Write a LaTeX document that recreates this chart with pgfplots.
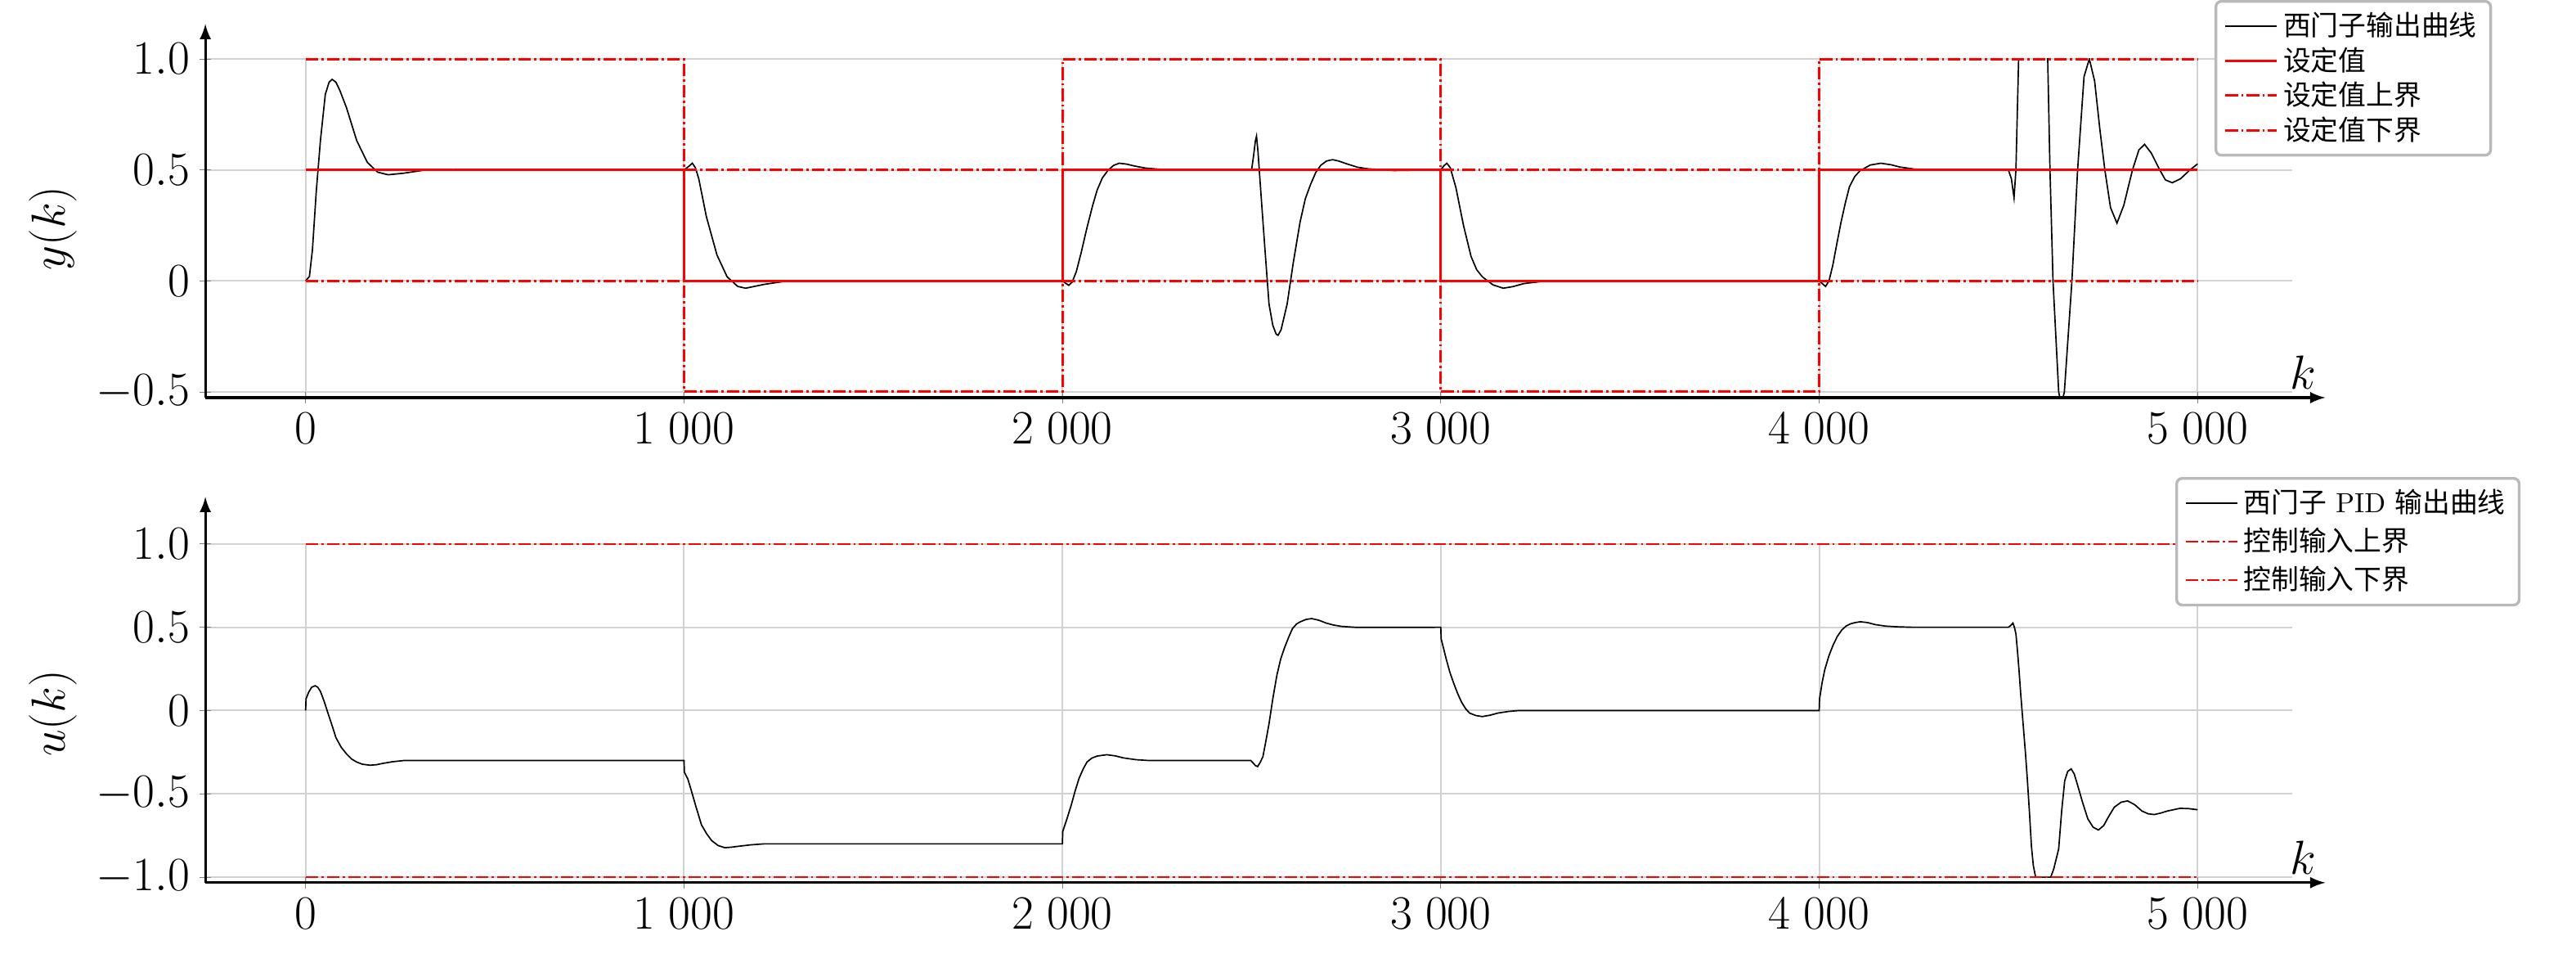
\documentclass[border=0pt]{standalone}
\usepackage{fontspec}
\usepackage{pgfplots}
\pgfplotsset{compat=1.18}
\newfontfamily\cjk{Noto Sans CJK SC}

\pgfplotsset{
  kplot/.style={
    scale only axis, width=755pt, height=122.5pt,
    axis lines=left,
    xmin=-265, xmax=5250,
    xtick={0,1000,2000,3000,4000,5000},
    xticklabels={$0$,$1\ 000$,$2\ 000$,$3\ 000$,$4\ 000$,$5\ 000$},
    grid=major,
    grid style={gray!35, line width=0.6pt},
    tick label style={font=\fontsize{16}{19}\selectfont},
    label style={font=\fontsize{16}{19}\selectfont},
    xlabel={$k$},
    xlabel style={at={(axis description cs:1,0)}, anchor=south east,
      xshift=9pt, yshift=3pt, inner sep=0pt},
    axis line style={line width=0.9pt},
    x axis line style={-latex, shorten >=-12pt},
    legend style={font=\fontsize{10}{12}\selectfont, draw=gray!55,
      line width=1pt, rounded corners=2pt, inner xsep=3pt, inner ysep=2pt,
      cells={anchor=west}, anchor=north west},
    legend image code/.code={\draw[#1] (0pt,0pt) -- (18.5pt,0pt);},
  },
  dd/.style={red, line width=0.9pt, dash pattern=on 4.5pt off 1.2pt on 0.8pt off 1.2pt},
}

\begin{document}
\begin{tikzpicture}

% output y(k)
\begin{axis}[kplot,
  at={(0pt,0pt)}, anchor=south west,
  ymin=-0.526, ymax=1.0,
  ytick={-0.5,0,0.5,1},
  yticklabels={$-0.5$,$0$,$0.5$,$1.0$},
  ylabel={$y(k)$},
  y axis line style={-latex, shorten >=-12.6pt},
  legend style={at={(0.9628,1.174)}, row sep=-1.4pt},
]
\addplot[black, line width=0.5pt] coordinates {
  (0,0) (10,0.02) (18,0.14) (28,0.40) (39,0.63) (52,0.84) (62,0.895) (70,0.908)
  (80,0.895) (90,0.86) (108,0.78) (135,0.632) (163,0.534) (190,0.49) (218,0.478)
  (259,0.485) (314,0.499) (397,0.503) (500,0.5) (1000,0.5)
  (1012,0.515) (1022,0.53) (1030,0.51) (1039,0.46) (1059,0.29) (1087,0.117)
  (1114,0.018) (1142,-0.025) (1163,-0.033) (1211,-0.016) (1266,-0.002) (1400,0) (2000,0)
  (2008,-0.01) (2017,-0.02) (2026,-0.005) (2037,0.043) (2050,0.13) (2065,0.24)
  (2080,0.34) (2092,0.41) (2106,0.465) (2120,0.497) (2135,0.52) (2150,0.53)
  (2170,0.526) (2189,0.518) (2220,0.508) (2257,0.503) (2326,0.5) (2500,0.5)
  (2505,0.56) (2510,0.63) (2513,0.652) (2517,0.58) (2525,0.386) (2535,0.15)
  (2546,-0.104) (2556,-0.2) (2565,-0.24) (2570,-0.245) (2578,-0.22) (2594,-0.104)
  (2610,0.08) (2628,0.264) (2642,0.37) (2656,0.435) (2670,0.49) (2683,0.521)
  (2698,0.54) (2714,0.546) (2730,0.54) (2752,0.527) (2780,0.512) (2807,0.505)
  (2876,0.497) (2950,0.499) (3000,0.5)
  (3008,0.518) (3016,0.53) (3025,0.51) (3040,0.42) (3060,0.25) (3080,0.11)
  (3095,0.05) (3110,0.018) (3138,-0.018) (3165,-0.033) (3190,-0.026) (3220,-0.012)
  (3275,-0.001) (3400,0) (4000,0)
  (4008,-0.012) (4017,-0.025) (4026,0.0) (4036,0.07) (4047,0.17) (4058,0.266)
  (4069,0.35) (4080,0.424) (4094,0.47) (4108,0.496) (4135,0.522) (4163,0.53)
  (4190,0.523) (4213,0.513) (4250,0.504) (4279,0.5) (4500,0.5)
  (4508,0.46) (4515,0.374) (4520,0.5) (4525,0.85) (4530,1.2) (4550,1.8) (4570,1.8)
  (4595,1.2) (4604,1.0) (4610,0.5) (4618,0.0) (4633,-0.5) (4640,-0.56) (4648,-0.5)
  (4668,0.0) (4683,0.5) (4700,0.92) (4714,1.0) (4728,0.9) (4742,0.68) (4755,0.5)
  (4770,0.33) (4787,0.26) (4805,0.34) (4828,0.5) (4845,0.59) (4860,0.615)
  (4878,0.575) (4900,0.5) (4915,0.455) (4933,0.442) (4955,0.46) (4980,0.5) (5000,0.527)
};
\addlegendentry{\cjk 西门子输出曲线}
\addplot[red, line width=0.9pt] coordinates {
  (0,0.5) (1000,0.5) (1000,0) (2000,0) (2000,0.5) (3000,0.5) (3000,0) (4000,0) (4000,0.5) (5000,0.5)
};
\addlegendentry{\cjk 设定值}
\addplot[dd] coordinates {
  (0,1) (1000,1) (1000,0.5) (2000,0.5) (2000,1) (3000,1) (3000,0.5) (4000,0.5) (4000,1) (5000,1)
};
\addlegendentry{\cjk 设定值上界}
\addplot[dd] coordinates {
  (0,0) (1000,0) (1000,-0.5) (2000,-0.5) (2000,0) (3000,0) (3000,-0.5) (4000,-0.5) (4000,0) (5000,0)
};
\addlegendentry{\cjk 设定值下界}
\end{axis}

% control input u(k)
\begin{axis}[kplot,
  at={(0pt,-175.4pt)}, anchor=south west,
  ymin=-1.033, ymax=1.0,
  ytick={-1,-0.5,0,0.5,1},
  yticklabels={$-1.0$,$-0.5$,$0$,$0.5$,$1.0$},
  ylabel={$u(k)$},
  y axis line style={-latex, shorten >=-17pt},
  legend style={at={(0.944,1.1976)}},
]
\addplot[black, line width=0.5pt] coordinates {
  (0,0) (1,0.07) (8,0.11) (16,0.14) (25,0.149) (32,0.14) (39,0.116) (49,0.055)
  (59,-0.015) (70,-0.09) (80,-0.162) (94,-0.22) (108,-0.26) (121,-0.29) (135,-0.309)
  (150,-0.322) (170,-0.328) (187,-0.325) (204,-0.317) (230,-0.307) (259,-0.30)
  (314,-0.30) (1000,-0.30)
  (1001,-0.37) (1010,-0.41) (1018,-0.47) (1032,-0.58) (1046,-0.685) (1060,-0.74)
  (1073,-0.78) (1090,-0.81) (1108,-0.823) (1125,-0.82) (1142,-0.815) (1176,-0.806)
  (1211,-0.80) (2000,-0.80)
  (2001,-0.725) (2012,-0.65) (2023,-0.57) (2034,-0.48) (2044,-0.407) (2055,-0.35)
  (2065,-0.309) (2078,-0.285) (2092,-0.273) (2117,-0.265) (2140,-0.272) (2161,-0.284)
  (2195,-0.295) (2230,-0.30) (2498,-0.30)
  (2505,-0.317) (2510,-0.33) (2516,-0.336) (2523,-0.31) (2530,-0.276) (2538,-0.18)
  (2546,-0.08) (2556,0.07) (2567,0.214) (2577,0.31) (2587,0.377) (2598,0.44)
  (2608,0.492) (2619,0.52) (2629,0.533) (2644,0.547) (2659,0.552) (2678,0.542)
  (2697,0.525) (2717,0.513) (2738,0.505) (2779,0.499) (3000,0.5)
  (3001,0.43) (3014,0.312) (3024,0.23) (3034,0.165) (3045,0.1) (3055,0.05)
  (3066,0.01) (3076,-0.015) (3093,-0.03) (3110,-0.036) (3130,-0.028) (3151,-0.015)
  (3180,-0.005) (3206,0) (4000,0)
  (4001,0.07) (4008,0.17) (4015,0.247) (4026,0.33) (4037,0.394) (4048,0.445)
  (4060,0.484) (4071,0.507) (4082,0.52) (4095,0.528) (4109,0.533) (4128,0.528)
  (4148,0.516) (4175,0.507) (4203,0.503) (4247,0.5) (4500,0.5)
  (4506,0.51) (4512,0.525) (4516,0.5) (4520,0.46) (4524,0.36) (4528,0.247)
  (4533,0.09) (4539,-0.08) (4545,-0.25) (4550,-0.407) (4556,-0.62) (4561,-0.815)
  (4566,-0.93) (4572,-1.0) (4612,-1.0) (4620,-0.95) (4633,-0.83) (4641,-0.6)
  (4649,-0.42) (4657,-0.365) (4666,-0.35) (4674,-0.38) (4682,-0.44) (4696,-0.55)
  (4710,-0.65) (4724,-0.7) (4738,-0.717) (4752,-0.69) (4765,-0.636) (4780,-0.58)
  (4798,-0.55) (4815,-0.542) (4834,-0.565) (4853,-0.603) (4870,-0.62) (4886,-0.624)
  (4903,-0.615) (4920,-0.603) (4953,-0.587) (4975,-0.588) (5000,-0.595)
};
\addlegendentry{{\cjk 西门子} PID {\cjk 输出曲线}}
\addplot[dd, line width=0.7pt] coordinates {(0,1) (5000,1)};
\addlegendentry{\cjk 控制输入上界}
\addplot[dd, line width=0.7pt] coordinates {(0,-1) (5000,-1)};
\addlegendentry{\cjk 控制输入下界}
\end{axis}

\pgfresetboundingbox
\path (-74.3pt,-201.1pt) rectangle (857.7pt,143.8pt);
\end{tikzpicture}
\end{document}
